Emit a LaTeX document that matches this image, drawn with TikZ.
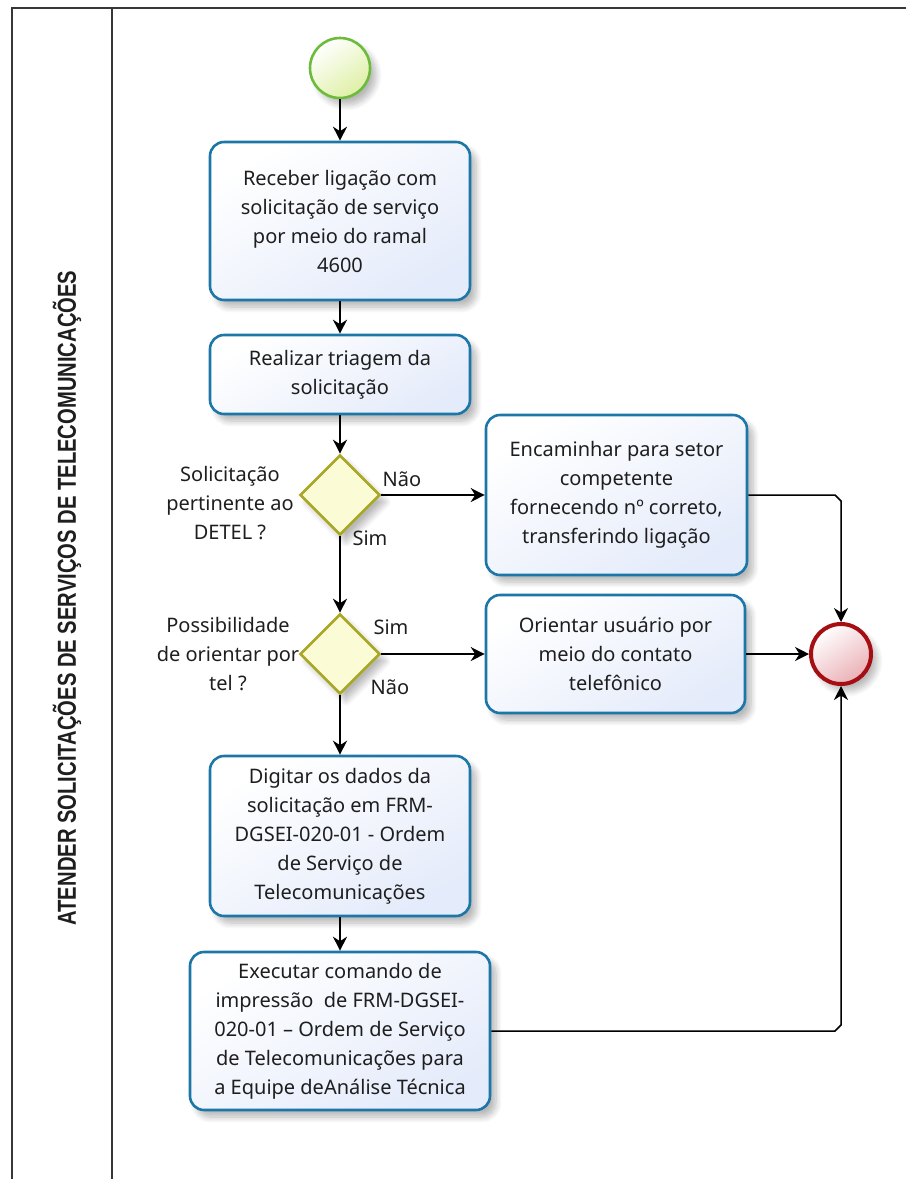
\documentclass[tikz,border=0pt]{standalone}
\usepackage{fontspec}
\usepackage{graphicx}
\setmainfont{Noto Sans}
\newfontfamily\lanefont{Liberation Sans}
\usetikzlibrary{arrows.meta,shapes.geometric,shadows.blur,backgrounds,calc}

\definecolor{frameline}{RGB}{55,55,55}
\definecolor{taskline}{RGB}{28,118,168}
\definecolor{taskfill}{RGB}{228,235,250}
\definecolor{gateline}{RGB}{168,168,38}
\definecolor{gatefill}{RGB}{251,251,214}
\definecolor{startline}{RGB}{108,188,58}
\definecolor{startfill}{RGB}{222,240,165}
\definecolor{endline}{RGB}{165,14,18}
\definecolor{endfill}{RGB}{234,176,182}
\definecolor{txt}{RGB}{30,30,30}
\definecolor{ghostline}{RGB}{234,234,234}

\begin{document}
\begin{tikzpicture}[x=1pt,y=-1pt,
  softshadow/.style={blur shadow={shadow xshift=6pt,shadow yshift=-7pt,
      shadow blur radius=6pt,shadow blur steps=8,shadow opacity=28}},
  task/.style={draw=taskline,line width=2.6pt,rounded corners=14pt,
      top color=white,bottom color=taskfill,shading angle=30,
      align=center,inner sep=0pt,text=txt,
      font=\fontsize{20}{29}\selectfont,softshadow},
  gate/.style={diamond,aspect=1,draw=gateline,line width=2.6pt,fill=gatefill,
      minimum width=80pt,minimum height=80pt,inner sep=0pt,softshadow},
  startev/.style={circle,draw=startline,line width=2.6pt,minimum size=60pt,
      inner sep=0pt,top color=white,bottom color=startfill,shading angle=35,softshadow},
  endev/.style={circle,draw=endline,line width=4pt,minimum size=60pt,
      inner sep=0pt,top color=white,bottom color=endfill,shading angle=35,softshadow},
  flow/.style={draw=black,line width=1.5pt,
      -{Stealth[length=14pt,width=14pt,inset=4.5pt]}},
  ghost/.style={draw=ghostline,line width=1.5pt},
  ghostflow/.style={ghost,-{Stealth[length=14pt,width=14pt,inset=4.5pt]}},
  lbl/.style={font=\fontsize{20}{29}\selectfont,text=txt,align=center,inner sep=0pt},
  frame/.style={draw=frameline,line width=2pt}
]
\useasboundingbox (0,0) rectangle (906,1179);

% pool frame and lane header
\draw[frame] (906,8) -- (12,8) -- (12,1185);
\draw[frame] (112,8) -- (112,1185);
\node[rotate=90,text=txt,inner sep=0pt,font=\lanefont\bfseries\fontsize{26}{26}\selectfont]
  (lane) at (67,598)
  {\resizebox{655pt}{\height}{ATENDER SOLICITAÇÕES DE SERVIÇOS DE TELECOMUNICAÇÕES}};

% events, tasks and gateways
\node[startev] (start) at (340,68) {};
\node[task,minimum width=260pt,minimum height=158pt] (t1) at (340,221)
  {Receber ligação com\\solicitação de serviço\\por meio do ramal\\4600};
\node[task,minimum width=260pt,minimum height=79pt] (t2) at (340,374.5)
  {Realizar triagem da\\solicitação};
\node[gate] (g1) at (340,495) {};
\node[task,minimum width=261pt,minimum height=160pt] (t3) at (616.5,495)
  {Encaminhar para setor\\competente\\fornecendo nº correto,\\transferindo ligação};
\node[gate] (g2) at (340,654) {};
\node[task,minimum width=259pt,minimum height=118pt] (t4) at (615.5,654)
  {Orientar usuário por\\meio do contato\\telefônico};
\node[endev] (end) at (841,654) {};
\node[task,minimum width=260pt,minimum height=160pt] (t5) at (340,836)
  {Digitar os dados da\\solicitação em FRM-\\DGSEI-020-01 - Ordem\\de Serviço de\\Telecomunicações};
\node[task,minimum width=300pt,minimum height=158pt] (t6) at (340,1031)
  {Executar comando de\\impressão\ \ de FRM-DGSEI-\\020-01 – Ordem de Serviço\\de Telecomunicações para\\a Equipe deAnálise Técnica};

% gateway questions and branch labels
\node[lbl] (q1) at (230,503) {Solicitação\\pertinente ao\\DETEL ?};
\node[lbl] (q2) at (228,654) {Possibilidade\\de orientar por\\tel ?};
\node[lbl] (n1) at (402,479) {Não};
\node[lbl] (s1) at (370,538) {Sim};
\node[lbl] (s2) at (391,627) {Sim};
\node[lbl] (n2) at (390,687) {Não};

% corner points of the flows into the end event
\coordinate (c3a) at ($(end.north |- t3.east)+(-6,0)$);
\coordinate (c3b) at ($(end.north |- t3.east)+(0,6)$);
\coordinate (c6a) at ($(end.south |- t6.east)+(0,-6)$);
\coordinate (c6b) at ($(end.south |- t6.east)+(-6,0)$);

% faint offset copies of the flows
\begin{scope}[on background layer,shift={(19,19)}]
  \draw[ghostflow] (t2.south) -- (g1.north);
  \draw[ghostflow] (g1.south) -- (g2.north);
  \draw[ghost] (g2.south) -- (t5.north);
  \draw[ghost] (t5.south) -- (t6.north);
  \draw[ghost] (g1.east) -- (t3.west);
  \draw[ghost] (g2.east) -- (t4.west);
  \draw[ghost,rounded corners=8pt] (t3.east) -| (end.north);
  \draw[ghost] (t4.east) -- (end.west);
  \draw[ghostflow,rounded corners=8pt] (t6.east) -| (end.south);
\end{scope}

% sequence flows
\draw[flow] (start) -- (t1);
\draw[flow] (t1) -- (t2);
\draw[flow] (t2) -- (g1);
\draw[flow] (g1.east) -- (t3.west);
\draw[flow] (g1.south) -- (g2.north);
\draw[flow] (g2.east) -- (t4.west);
\draw[flow] (g2.south) -- (t5.north);
\draw[flow] (t5) -- (t6);
\draw[flow] (t3.east) -- (c3a) -- (c3b) -- (end.north);
\draw[flow] (t4.east) -- (end.west);
\draw[flow] (t6.east) -- (c6b) -- (c6a) -- (end.south);
\end{tikzpicture}
\end{document}
